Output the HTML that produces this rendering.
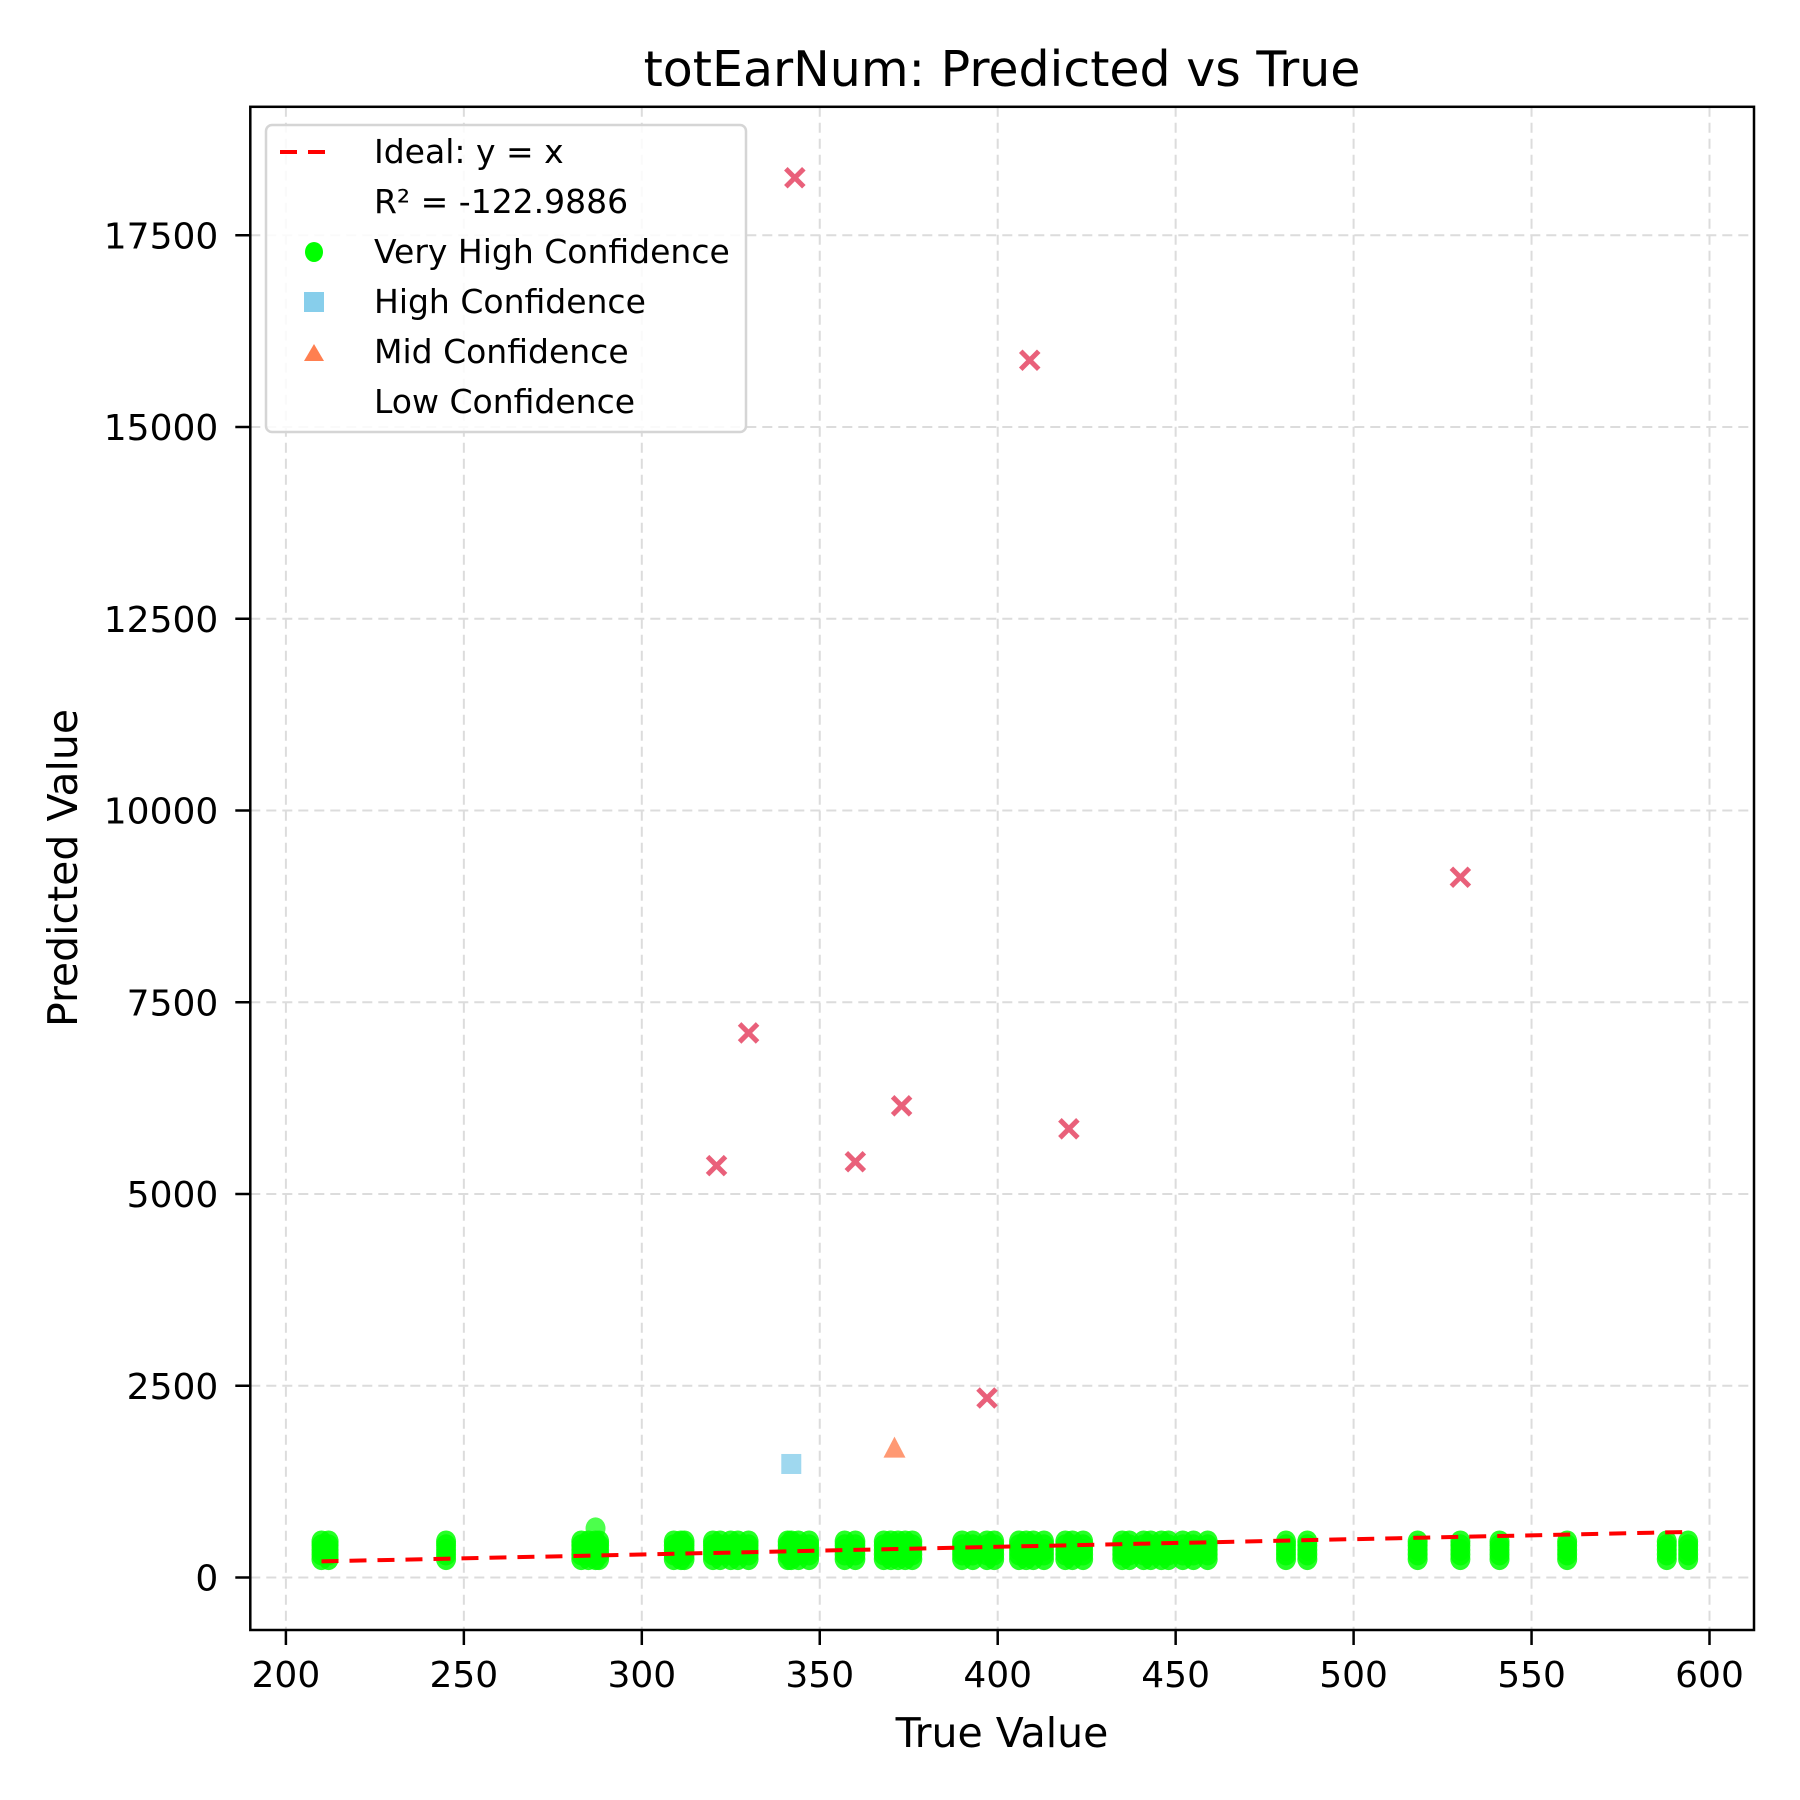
<!DOCTYPE html>
<html><head><meta charset="utf-8"><style>
html,body{margin:0;padding:0;background:#fff}
svg{display:block;font-family:"DejaVu Sans","Liberation Sans",sans-serif}
</style></head><body>
<svg id="chart" width="1800" height="1800" viewBox="0 0 1800 1800" xmlns="http://www.w3.org/2000/svg">
<rect width="1800" height="1800" fill="#fff"/>
<g id="grid"></g>
<g id="marks"></g>
<rect x="250.3" y="106.8" width="1503.7" height="1523.2" fill="none" stroke="#000" stroke-width="2.5"/>
<g id="ticks"></g>
<text x="1002" y="86" font-size="49" text-anchor="middle">totEarNum: Predicted vs True</text>
<text x="1002" y="1747" font-size="41" text-anchor="middle">True Value</text>
<text transform="translate(77,868) rotate(-90)" font-size="41" text-anchor="middle">Predicted Value</text>
<g>
<rect x="266" y="125" width="480" height="307" rx="6" fill="#fff" fill-opacity="0.85" stroke="#d5d5d5" stroke-width="2.5"/>
<g><line x1="280" y1="152" x2="336" y2="152" stroke="#f00" stroke-width="4" stroke-dasharray="17,11"/><text x="374" y="163" font-size="33">Ideal: y = x</text></g>
<g><text x="374" y="213" font-size="33">R² = -122.9886</text></g>
<g><ellipse cx="314" cy="252" rx="9" ry="10" fill="#00ff00"/><text x="374" y="263" font-size="33">Very High Confidence</text></g>
<g><rect x="304" y="292" width="20" height="20" fill="#87ceeb"/><text x="374" y="313" font-size="33">High Confidence</text></g>
<g><polygon points="314,344 324,361 304,361" fill="#ff7f50"/><text x="374" y="363" font-size="33">Mid Confidence</text></g>
<g><text x="374" y="413" font-size="33">Low Confidence</text></g>
</g>
</svg>
<script>
const xTicks=[200,250,300,350,400,450,500,550,600];
const yTicks=[0,2500,5000,7500,10000,12500,15000,17500];
const greenX=[210,212,245,283,285,287,288,309,311,312,320,322,325,327,330,341,342,344,347,357,360,368,370,372,374,376,390,393,397,399,406,408,410,413,419,421,424,435,437,441,443,446,448,452,455,459,481,487,518,530,541,560,588,594];
const greenY=[240,300,360,420,470];
const extraGreenX=[287];
const extraGreenY=[640];
const lowX=[343,409,530,330,373,420,321,360,397];
const lowY=[18250,15870,9130,7100,6150,5850,5370,5420,2340];
const highX=[342];const highY=[1480];
const midX=[371];const midY=[1680];
const idealRange=[210,594];
const NS="http://www.w3.org/2000/svg";
const X0=250.3,X1=1754,Y0=106.8,Y1=1630;
const sx=v=>285.9+(v-200)*3.559;
const sy=v=>1577.5-v*0.0767;
function mk(t,a,p){const e=document.createElementNS(NS,t);for(const k in a)e.setAttribute(k,a[k]);p.appendChild(e);return e;}
const grid=document.getElementById('grid'),ticks=document.getElementById('ticks'),marks=document.getElementById('marks');
xTicks.forEach(v=>{const x=sx(v);
 const g=mk('line',{x1:x,x2:x,y1:Y0,y2:Y1,stroke:'#dcdcdc','stroke-width':2,'stroke-dasharray':'10,6'},grid);
 
 
 const t=mk('line',{x1:x,x2:x,y1:Y1,y2:Y1+15,stroke:'#000','stroke-width':2.5},ticks);
 
 
 const l=mk('text',{x:x,y:1687,'font-size':36,'text-anchor':'middle'},ticks);l.textContent=v;
 
 });
yTicks.forEach(v=>{const y=sy(v);
 const g=mk('line',{x1:X0,x2:X1,y1:y,y2:y,stroke:'#dcdcdc','stroke-width':2,'stroke-dasharray':'10,6'},grid);
 
 
 const t=mk('line',{x1:X0-15,x2:X0,y1:y,y2:y,stroke:'#000','stroke-width':2.5},ticks);
 
 
 const l=mk('text',{x:X0-32,y:y+13,'font-size':36,'text-anchor':'end'},ticks);l.textContent=v;
 
 });
greenX.forEach(xv=>greenY.forEach(yv=>{const c=mk('ellipse',{cx:sx(xv),cy:sy(yv),rx:10,ry:11,fill:'#00ff00','fill-opacity':0.85},marks);
 
 }));
extraGreenX.forEach((xv,i)=>{const c=mk('ellipse',{cx:sx(xv),cy:sy(extraGreenY[i]),rx:10,ry:11,fill:'#00ff00','fill-opacity':0.7},marks);
 
 });
highX.forEach((xv,i)=>{const x=sx(xv),y=sy(highY[i]);const r=mk('rect',{x:x-10,y:y-10,width:20,height:20,fill:'#87ceeb','fill-opacity':0.8},marks);
 
 });
midX.forEach((xv,i)=>{const x=sx(xv),y=sy(midY[i]);const p=mk('polygon',{points:`${x},${y-12} ${x+11},${y+9} ${x-11},${y+9}`,fill:'#ff7f50','fill-opacity':0.8},marks);
 
 });
const ideal=mk('line',{x1:sx(idealRange[0]),y1:sy(idealRange[0]),x2:sx(idealRange[1]),y2:sy(idealRange[1]),stroke:'#f00','stroke-width':4,'stroke-dasharray':'17,11'},marks);


lowX.forEach((xv,i)=>{const x=sx(xv),y=sy(lowY[i]);const g=mk('g',{stroke:'#e9607a','stroke-width':5},marks);
 
 
 mk('line',{x1:x-9,y1:y-9,x2:x+9,y2:y+9},g);mk('line',{x1:x-9,y1:y+9,x2:x+9,y2:y-9},g);});
</script>
</body></html>
